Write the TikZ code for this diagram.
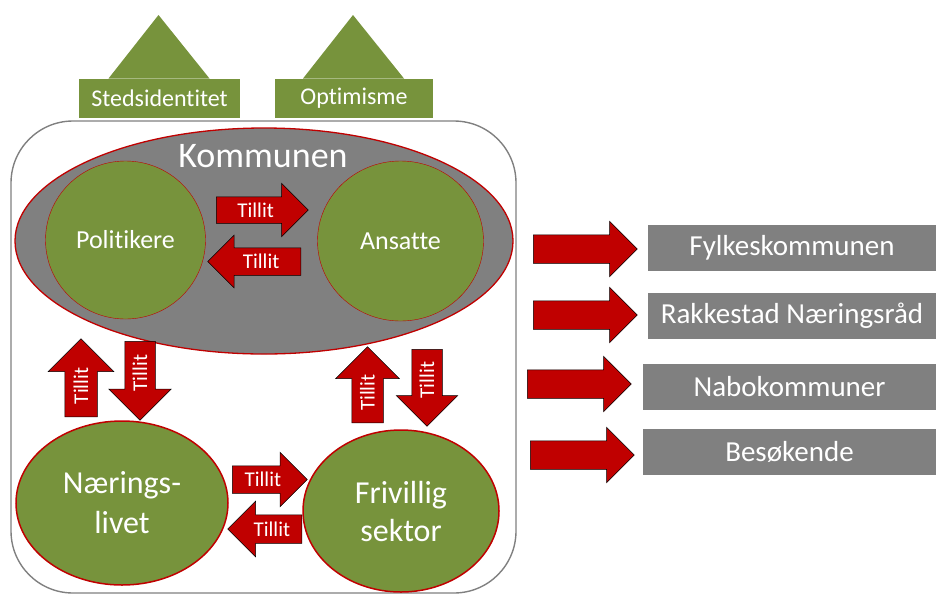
\documentclass[tikz,border=0pt]{standalone}
\usepackage{fontspec}
\setmainfont{Carlito}[Ligatures=NoCommon]
\usetikzlibrary{shapes.geometric, shapes.arrows}

\definecolor{olivgronn}{RGB}{119,147,60}
\definecolor{tillitred}{RGB}{192,0,0}
\definecolor{kgray}{RGB}{128,128,128}

\tikzset{
	aktor/.style={ellipse, draw=tillitred, fill=olivgronn, text=white, inner sep=0pt, align=center},
	tillit/.style n args={3}{single arrow, draw=black, line width=0.5pt, fill=tillitred, text=white,
		font=\fontsize{21}{21}\selectfont, text height=14pt, text depth=0pt, inner xsep=0pt,
		minimum height=#1, inner ysep=#2, single arrow head extend=#3},
	ekstern/.style={fill=kgray, text=white, minimum height=46pt, font=\fontsize{29}{29}\selectfont},
	verdi/.style={fill=olivgronn, text=white, minimum height=39pt, font=\fontsize{24}{24}\selectfont}
}

\begin{document}
\begin{tikzpicture}[x=1pt, y=-1pt]
		\useasboundingbox (0,0) rectangle (936,595);
		% verdier
		\foreach \n/\x/\w/\txt in {sted/159.5/161/Stedsidentitet, optimisme/354/158/Optimisme} {
			\fill[olivgronn] (\x-51,78.5) -- (\x-1,15) -- (\x+50,78.5) -- cycle;
			\node[verdi, minimum width=\w pt] (\n) at (\x,98) {\txt};
		}
		\draw[kgray, line width=1.4pt, rounded corners=62pt] (11,121) rectangle (516,593);
		% kommunen
		\node[ellipse, draw=tillitred, line width=1.3pt, fill=kgray, minimum width=498pt, minimum height=226pt] (kommunen) at (264,241) {};
		\node[text=white, font=\fontsize{36}{36}\selectfont, anchor=base] (ktekst) at (263,167) {Kommunen};
		\node[aktor, minimum width=160pt, minimum height=158pt, font=\fontsize{26}{26}\selectfont] (politikere) at (125.5,240) {Politikere};
		\node[aktor, minimum width=166pt, minimum height=160pt, font=\fontsize{26}{26}\selectfont] (ansatte) at (400.5,241) {Ansatte};
		\node[aktor, line width=1.5pt, minimum width=212pt, minimum height=164pt, font=\fontsize{32}{40}\selectfont] (naering) at (122,503) {Nærings-\\livet};
		\node[aktor, line width=1.5pt, minimum width=196pt, minimum height=162pt, font=\fontsize{32}{38}\selectfont] (frivillig) at (401,511) {Frivillig\\sektor};
		% tillit
		\node[tillit={92pt}{6pt}{13.5pt}, anchor=tail] (pa) at (216,210) {Tillit};
		\node[tillit={93pt}{6.5pt}{12.5pt}, shape border rotate=180, anchor=tail] (ap) at (301,261.5) {Tillit};
		\node[tillit={75pt}{6.5pt}{13.5pt}, anchor=tail] (nf) at (232,479.5) {Tillit};
		\node[tillit={74pt}{7pt}{13.5pt}, shape border rotate=180, anchor=tail] (fn) at (302,529) {Tillit};
		\node[tillit={78pt}{9pt}{16.5pt}, rotate=90, anchor=tail] (np) at (81,417) {Tillit};
		\node[tillit={79pt}{8pt}{16pt}, rotate=90, shape border rotate=180, anchor=tail] (pn) at (140,341) {Tillit};
		\node[tillit={76pt}{8.5pt}{16pt}, rotate=90, anchor=tail] (fa) at (367.5,423) {Tillit};
		\node[tillit={77pt}{8pt}{15.5pt}, rotate=90, shape border rotate=180, anchor=tail] (af) at (427,349) {Tillit};
		% eksterne
		\foreach \i/\ax/\ay/\bx/\by/\w/\txt in {1/533/249/792/248/288/Fylkeskommunen, 2/533/315/792/315.5/288/Rakkestad Næringsråd,
			3/527/384/789.5/386.5/293/Nabokommuner, 4/530/455/789.5/451.5/293/Besøkende} {
			\node[tillit={104pt}{7pt}{13.5pt}, anchor=tail] (pil\i) at (\ax,\ay) {};
			\node[ekstern, minimum width=\w pt] (ekst\i) at (\bx,\by) {\txt};
		}
	\end{tikzpicture}
\end{document}
